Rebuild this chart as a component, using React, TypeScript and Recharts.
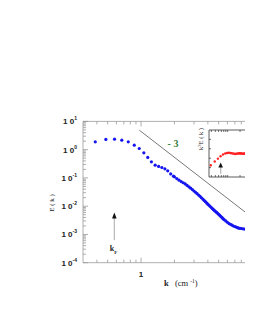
import React from 'react';
import { ScatterChart, Scatter, XAxis, YAxis, ReferenceLine, ReferenceDot } from 'recharts';

// wavenumber k (cm^-1) and spectrum E(k)
const kValues = [
  0.387, 0.482, 0.577, 0.671, 0.767, 0.869, 0.963, 1.06, 1.15, 1.24, 1.34, 1.44, 1.54, 1.64, 1.74, 1.85, 1.96,
  2.0, 2.1, 2.2, 2.3, 2.4, 2.5, 2.6, 2.7, 2.8, 2.9, 3.0, 3.1, 3.2, 3.3, 3.4, 3.5, 3.6, 3.7, 3.8, 3.9, 4.0,
  4.1, 4.2, 4.3, 4.4, 4.5, 4.6, 4.7, 4.8, 4.9, 5.0, 5.1, 5.2, 5.3, 5.4, 5.5, 5.6, 5.8, 6.0, 6.2, 6.4, 6.6, 6.8,
  7.0, 7.2, 7.4, 7.6, 7.8, 8.0, 8.3, 8.6, 8.9, 9.2, 9.5, 9.8, 10.1, 10.4,
];
const eValues = [
  1.89, 2.3, 2.35, 2.17, 1.89, 1.44, 1.1, 0.77, 0.53, 0.37, 0.283, 0.255, 0.234, 0.209, 0.178, 0.139, 0.115,
  0.109, 0.0946, 0.083, 0.0743, 0.0674, 0.0611, 0.0543, 0.0484, 0.0432, 0.0387, 0.0345, 0.031, 0.0278, 0.0249,
  0.0224, 0.0199, 0.0179, 0.016, 0.0144, 0.013, 0.0118,
  0.0107, 0.00975, 0.00891, 0.00817, 0.00752, 0.00694, 0.00645, 0.006, 0.00557, 0.00518, 0.0048, 0.00445,
  0.00414, 0.00385, 0.00359, 0.00334, 0.003, 0.00269, 0.00243, 0.00228, 0.00212, 0.00199,
  0.0019, 0.00182, 0.00174, 0.00167, 0.00164, 0.00162, 0.00158, 0.00155, 0.00153, 0.00151, 0.00149, 0.00148,
  0.00146, 0.00145,
];

// inset: compensated spectrum k^3 E(k), arbitrary units
const insetK = [
  0.387, 0.482, 0.577, 0.671, 0.767, 0.869, 0.963, 1.06, 1.15, 1.24, 1.34, 1.44, 1.54, 1.64, 1.74, 1.85, 1.96,
  2.0, 2.1, 2.2, 2.3, 2.4, 2.5, 2.6, 2.7, 2.8, 2.9, 3.0, 3.1, 3.2, 3.3, 3.4, 3.5, 3.6, 3.7, 3.8, 3.9, 4.0, 4.2,
];
const insetV = [
  0.25, 0.33, 0.39, 0.44, 0.48, 0.5, 0.51, 0.515, 0.51, 0.505, 0.5, 0.495, 0.49, 0.495, 0.5, 0.5, 0.505,
  0.505, 0.5, 0.5, 0.498, 0.495, 0.497, 0.5, 0.502, 0.5, 0.498, 0.497, 0.495, 0.493, 0.492, 0.49, 0.49,
  0.488, 0.488, 0.487, 0.486, 0.485, 0.485,
];

const xTicks = [0.4, 0.5, 0.6, 0.7, 0.8, 0.9, 1, 2, 3, 4, 5, 6, 7, 8, 9, 10, 20, 30];
const yTicks = [
  0.0001, 0.0002, 0.0003, 0.0004, 0.0005, 0.0006, 0.0007, 0.0008, 0.0009,
  0.001, 0.002, 0.003, 0.004, 0.005, 0.006, 0.007, 0.008, 0.009,
  0.01, 0.02, 0.03, 0.04, 0.05, 0.06, 0.07, 0.08, 0.09,
  0.1, 0.2, 0.3, 0.4, 0.5, 0.6, 0.7, 0.8, 0.9,
  1, 2, 3, 4, 5, 6, 7, 8, 9, 10,
];
const insetYTicks = [0.2, 0.4, 0.6, 0.8];

const slopeLine = [{ x: 0.965, y: 4.9 }, { x: 9.24, y: 0.0051 }];
const kF = 0.575;
const insetKF = 0.674;

const data = kValues.map((k, i) => ({ k, E: eValues[i] }));
const insetData = insetK.map((k, i) => ({ k, v: insetV[i] }));

const sans = '"Liberation Sans", Arial, sans-serif';
const serif = '"Liberation Serif", "Times New Roman", serif';
const frame = '#999';

const isMajor = (v: number) => Math.abs(Math.log10(v) - Math.round(Math.log10(v))) < 1e-6;

const BottomTick = (p: any) => {
  const v = p.payload.value;
  const major = isMajor(v);
  return (
    <g>
      <line x1={p.x} x2={p.x} y1={p.y} y2={p.y - (major ? 5 : 3)} stroke={frame} strokeWidth={0.8} />
      {major && (
        <text x={p.x} y={p.y + 14} textAnchor="middle" fontFamily={sans} fontWeight="bold" fontSize={8} fill="#222">
          {v === 1 ? '1' : '1 0'}
        </text>
      )}
    </g>
  );
};

const TopTick = (p: any) => {
  const major = isMajor(p.payload.value);
  return <line x1={p.x} x2={p.x} y1={p.y} y2={p.y + (major ? 5 : 3)} stroke={frame} strokeWidth={0.8} />;
};

const LeftTick = (p: any) => {
  const v = p.payload.value;
  const major = isMajor(v);
  return (
    <g>
      <line x1={p.x} x2={p.x + (major ? 5 : 3)} y1={p.y} y2={p.y} stroke={frame} strokeWidth={0.8} />
      {major && (
        <text x={p.x - 6} y={p.y + 3} textAnchor="end" fontFamily={sans} fontWeight="bold" fontSize={8} fill="#222">
          <tspan>1 0</tspan>
          <tspan dy={-4} fontSize={5}>{String(Math.round(Math.log10(v)))}</tspan>
        </text>
      )}
    </g>
  );
};

const InsetLeftTick = (p: any) => (
  <line x1={p.x} x2={p.x + 2} y1={p.y} y2={p.y} stroke="#333" strokeWidth={0.7} />
);
const InsetTopTick = (p: any) => (
  <line x1={p.x} x2={p.x} y1={p.y} y2={p.y + 2} stroke="#333" strokeWidth={0.7} />
);
const InsetBottomTick = (p: any) => (
  <line x1={p.x} x2={p.x} y1={p.y} y2={p.y - 2} stroke="#333" strokeWidth={0.7} />
);

const Arrow = (p: any) => {
  const { x1, y1, x2, y2 } = p;
  const head = p.head || 6;
  return (
    <g>
      <line x1={x1} y1={y1} x2={x2} y2={y2 + head - 1} stroke="#bbb" strokeWidth={1.3} />
      <polygon points={`${x2},${y2} ${x2 - 2.3},${y2 + head} ${x2 + 2.3},${y2 + head}`} fill="#111" />
    </g>
  );
};

const Dot = (color: string, r: number) => (p: any) => <circle cx={p.cx} cy={p.cy} r={r} fill={color} />;
const NoDot = () => <g />;

const MinusThree = (p: any) => (
  <text x={p.viewBox.x} y={p.viewBox.y + 4} textAnchor="middle" fontFamily={serif} fontWeight="bold" fontSize={10} fill="#3a7d3a">
    - 3
  </text>
);

const KFLabel = (p: any) => (
  <text x={p.viewBox.x} y={p.viewBox.y + 3} textAnchor="middle" fontFamily={serif} fontWeight="bold" fontSize={8} fill="#222">
    <tspan>k</tspan>
    <tspan dy={3} fontSize={5}>F</tspan>
  </text>
);

const YLabel = () => (
  <text x={46} y={195} transform="rotate(-90 46 195)" textAnchor="middle" fontFamily={serif} fontSize={7} fill="#222">
    E ( k )
  </text>
);

const XLabel = () => (
  <text x={156} y={278} fontFamily={serif} fontSize={8.5} fill="#222">
    <tspan fontWeight="bold">k</tspan>
    <tspan x={167}>(cm</tspan>
    <tspan dx={2} dy={-3} fontSize={5.5}>-1</tspan>
    <tspan dy={3}>)</tspan>
  </text>
);

const InsetYLabel = () => (
  <text x={10} y={13} transform="rotate(-90 10 13)" textAnchor="middle" fontFamily={serif} fontSize={6.5} fill="#222">
    <tspan>k</tspan>
    <tspan dy={-2} fontSize={4.5}>3</tspan>
    <tspan dy={2}>E ( k )</tspan>
  </text>
);

const App = () => (
  <div style={{ position: 'relative', width: 245, height: 319, overflow: 'hidden' }}>
    <ScatterChart width={307} height={319} margin={{ top: 112.4, right: 10, bottom: 34.3, left: 0 }}>
      <XAxis
        xAxisId="top"
        orientation="top"
        dataKey="k"
        type="number"
        scale="log"
        domain={[0.3, 30]}
        allowDataOverflow
        ticks={xTicks}
        interval={0}
        height={1}
        tickSize={0}
        tickMargin={0}
        tickLine={false}
        tick={TopTick}
        axisLine={{ stroke: frame, strokeWidth: 0.8 }}
      />
      <XAxis
        dataKey="k"
        type="number"
        scale="log"
        domain={[0.3, 30]}
        allowDataOverflow
        ticks={xTicks}
        interval={0}
        height={30}
        tickSize={0}
        tickMargin={0}
        tickLine={false}
        tick={BottomTick}
        axisLine={{ stroke: frame, strokeWidth: 0.8 }}
        label={{ content: XLabel }}
      />
      <YAxis
        dataKey="E"
        type="number"
        scale="log"
        domain={[0.0001, 10]}
        allowDataOverflow
        ticks={yTicks}
        interval={0}
        width={75}
        tickSize={0}
        tickMargin={0}
        tickLine={false}
        tick={LeftTick}
        axisLine={{ stroke: frame, strokeWidth: 0.8 }}
        label={{ content: YLabel }}
      />
      <ReferenceLine segment={slopeLine} stroke="#555" strokeWidth={0.8} />
      <ReferenceDot x={1.94} y={1.74} r={0.01} fill="none" stroke="none" label={{ content: MinusThree }} />
      <ReferenceLine segment={[{ x: kF, y: 0.00063 }, { x: kF, y: 0.006 }]} shape={Arrow} />
      <ReferenceDot x={kF * 0.985} y={0.00032} r={0.01} fill="none" stroke="none" label={{ content: KFLabel }} />
      <Scatter xAxisId="top" data={data} shape={NoDot} isAnimationActive={false} />
      <Scatter data={data} fill="#1515f0" shape={Dot('#1515f0', 1.6)} isAnimationActive={false} />
    </ScatterChart>
    <div style={{ position: 'absolute', left: 185, top: 117.7 }}>
      <ScatterChart width={108} height={53} margin={{ top: 3, right: 10, bottom: 1, left: 0 }}>
        <XAxis
          xAxisId="top"
          orientation="top"
          dataKey="k"
          type="number"
          scale="log"
          domain={[0.35, 35]}
          allowDataOverflow
          ticks={xTicks}
          interval={0}
          height={1}
          tickSize={0}
          tickMargin={0}
          tickLine={false}
          tick={InsetTopTick}
          axisLine={{ stroke: '#333', strokeWidth: 0.8 }}
        />
        <XAxis
          dataKey="k"
          type="number"
          scale="log"
          domain={[0.35, 35]}
          allowDataOverflow
          ticks={xTicks}
          interval={0}
          height={1}
          tickSize={0}
          tickMargin={0}
          tickLine={false}
          tick={InsetBottomTick}
          axisLine={{ stroke: '#333', strokeWidth: 0.8 }}
        />
        <YAxis
          dataKey="v"
          type="number"
          domain={[0, 1]}
          allowDataOverflow
          ticks={insetYTicks}
          interval={0}
          width={16}
          tickSize={0}
          tickMargin={0}
          tickLine={false}
          tick={InsetLeftTick}
          axisLine={{ stroke: '#333', strokeWidth: 0.8 }}
          label={{ content: InsetYLabel }}
        />
        <ReferenceLine segment={[{ x: insetKF, y: 0.07 }, { x: insetKF, y: 0.31 }]} shape={(p: any) => <Arrow {...p} head={5} />} />
        <Scatter xAxisId="top" data={insetData} shape={NoDot} isAnimationActive={false} />
        <Scatter data={insetData} fill="#f00" shape={Dot('#f22', 1.2)} isAnimationActive={false} />
      </ScatterChart>
    </div>
  </div>
);

export default App;
